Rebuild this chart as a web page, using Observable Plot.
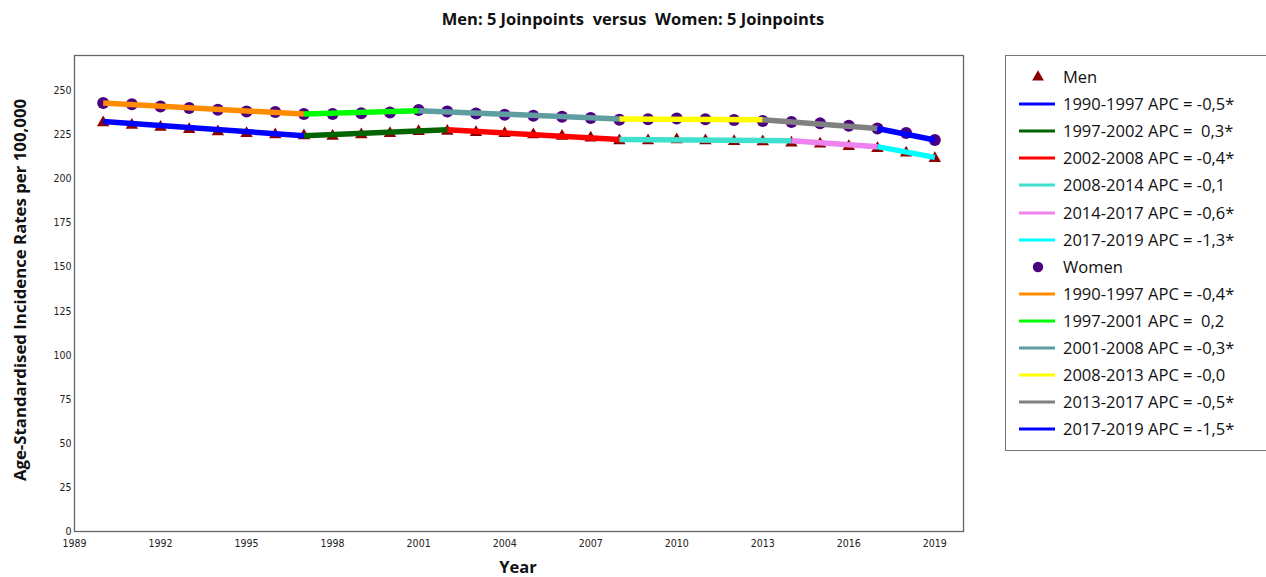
<!DOCTYPE html>
<html>
<head>
<meta charset="utf-8">
<script src="https://cdn.jsdelivr.net/npm/d3@7"></script>
<script src="https://cdn.jsdelivr.net/npm/@observablehq/plot@0.6"></script>
<style>
  html, body { margin: 0; padding: 0; background: #fff; }
  #wrap { position: relative; width: 1266px; height: 577px; overflow: hidden; font-family: "Open Sans", sans-serif; }
  #title { position: absolute; left: 0; width: 1266px; top: 9px; line-height: 1.2; text-align: center; font-weight: bold; font-size: 16.5px; white-space: pre; color: #111; }
  #chart { position: absolute; left: 0; top: 0; }
  #ylab { position: absolute; left: 20px; top: 290px; line-height: 1; transform: translate(-50%, -50%) rotate(-90deg); font-weight: bold; font-size: 16.8px; white-space: nowrap; color: #111; }
  #xlab { position: absolute; left: 518px; top: 567px; line-height: 1; transform: translate(-50%, -50%); font-weight: bold; font-size: 16.5px; color: #111; }
  #legend { position: absolute; left: 1005px; top: 55px; width: 290px; height: 396px; border: 1px solid #777; box-sizing: border-box; }
  .row { position: absolute; left: 0; height: 20px; white-space: pre; font-size: 16.5px; color: #111; }
  .row span { position: absolute; left: 57px; top: 50%; line-height: 1; transform: translateY(-50%); }
  .row svg { position: absolute; left: 12px; top: 0; }
</style>
</head>
<body>
<div id="wrap">
  <div id="title"></div>
  <div id="chart"></div>
  <div id="ylab">Age-Standardised Incidence Rates per 100,000</div>
  <div id="xlab">Year</div>
  <div id="legend"></div>
</div>
<script>
const titleText = "Men: 5 Joinpoints  versus  Women: 5 Joinpoints";

const years = [1990,1991,1992,1993,1994,1995,1996,1997,1998,1999,2000,2001,2002,2003,2004,2005,2006,2007,2008,2009,2010,2011,2012,2013,2014,2015,2016,2017,2018,2019];
const menRates = [231.9,230.5,229.4,228.1,226.8,225.8,225.1,224.5,224.3,225.1,225.8,226.9,227.1,226.4,225.8,225.1,224.3,223.2,221.7,221.7,222.2,221.7,221.3,221.1,220.4,219.8,218.4,217.3,214.7,211.6];
const womenRates = [243.0,242.4,241.1,240.2,239.2,238.3,237.9,236.8,236.8,237.3,237.7,239.1,238.2,237.1,236.4,235.8,235.3,234.5,233.6,233.8,234.3,233.8,233.4,232.8,232.3,231.5,230.2,228.6,226.0,222.1];

// Joinpoint model fits (segment endpoints)
const menJoinYears = [1990,1997,2002,2008,2014,2017,2019];
const menJoinFit = [232.6,224.5,227.9,222.4,221.7,218.3,212.2];
const menSegColors = ["#0000ff","#006400","#ff0000","#40e0d0","#ee82ee","#00ffff"];
const menSegLabels = ["1990-1997 APC = -0,5*","1997-2002 APC =  0,3*","2002-2008 APC = -0,4*","2008-2014 APC = -0,1","2014-2017 APC = -0,6*","2017-2019 APC = -1,3*"];

const womenJoinYears = [1990,1997,2001,2008,2013,2017,2019];
const womenJoinFit = [243.0,236.8,238.7,234.0,233.6,228.6,222.1];
const womenSegColors = ["#ff8c00","#00ff00","#5f9ea0","#ffff00","#808080","#0000ff"];
const womenSegLabels = ["1990-1997 APC = -0,4*","1997-2001 APC =  0,2","2001-2008 APC = -0,3*","2008-2013 APC = -0,0","2013-2017 APC = -0,5*","2017-2019 APC = -1,5*"];

const xTicks = [1989,1992,1995,1998,2001,2004,2007,2010,2013,2016,2019];
const yTicks = [0,25,50,75,100,125,150,175,200,225,250];

const menColor = "#8b0000";
const womenColor = "#4b0082";

document.getElementById("title").textContent = titleText;

const menPts = years.map((y, i) => ({year: y, rate: menRates[i]}));
const womenPts = years.map((y, i) => ({year: y, rate: womenRates[i]}));

function segMarks(joinYears, joinFit, colors) {
  return colors.map((c, i) => Plot.line(
    [{year: joinYears[i], rate: joinFit[i]}, {year: joinYears[i+1], rate: joinFit[i+1]}],
    {x: "year", y: "rate", stroke: c, strokeWidth: 5.5, strokeLinecap: "butt"}
  ));
}

const plot = Plot.plot({
  width: 1000,
  height: 577,
  marginTop: 55,
  marginLeft: 74,
  marginRight: 37,
  marginBottom: 46,
  style: {fontFamily: "'Liberation Sans Narrow', 'DejaVu Sans Condensed', sans-serif", fontSize: "10.5px", color: "#222", background: "transparent"},
  x: {domain: [1989, 2020], ticks: xTicks, tickFormat: d => String(d), label: null},
  y: {domain: [0, 270], ticks: yTicks, label: null},
  marks: [
    Plot.axisX({ticks: xTicks, tickFormat: d => String(d), tickSize: 0, tickPadding: 8, label: null}),
    Plot.axisY({ticks: yTicks, tickSize: 0, tickPadding: 3, label: null}),
    Plot.dot(menPts, {x: "year", y: "rate", symbol: "triangle", r: 4.6, fill: menColor, stroke: "none"}),
    ...segMarks(menJoinYears, menJoinFit, menSegColors),
    Plot.dot(womenPts, {x: "year", y: "rate", symbol: "circle", r: 6, fill: womenColor, stroke: "none"}),
    ...segMarks(womenJoinYears, womenJoinFit, womenSegColors),
    Plot.frame({stroke: "#666", strokeWidth: 1.3})
  ]
});
document.getElementById("chart").appendChild(plot);

// Legend
const legend = document.getElementById("legend");
const rowY0 = 21, rowStep = 27.1;
let rowIdx = 0;
function addRow(kind, color, label) {
  const top = rowY0 + rowIdx * rowStep - 10;
  rowIdx++;
  const div = document.createElement("div");
  div.className = "row";
  div.style.top = top + "px";
  div.style.width = "280px";
  const svg = d3.create("svg").attr("width", 40).attr("height", 20);
  if (kind === "line") {
    svg.append("line").attr("x1", 1).attr("x2", 37).attr("y1", 10).attr("y2", 10).attr("stroke", color).attr("stroke-width", 3);
  } else if (kind === "triangle") {
    svg.append("path").attr("transform", "translate(20,10)").attr("d", d3.symbol(d3.symbolTriangle, 60)()).attr("fill", color);
  } else {
    svg.append("circle").attr("cx", 20).attr("cy", 10).attr("r", 5.2).attr("fill", color);
  }
  div.appendChild(svg.node());
  const sp = document.createElement("span");
  sp.textContent = label;
  div.appendChild(sp);
  legend.appendChild(div);
}
addRow("triangle", menColor, "Men");
menSegLabels.forEach((l, i) => addRow("line", menSegColors[i], l));
addRow("circle", womenColor, "Women");
womenSegLabels.forEach((l, i) => addRow("line", womenSegColors[i], l));
</script>
</body>
</html>
